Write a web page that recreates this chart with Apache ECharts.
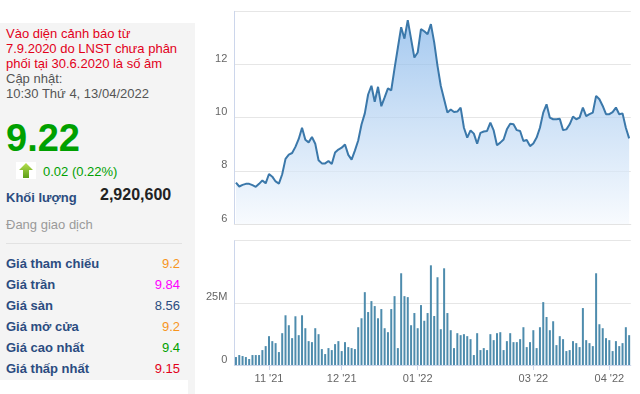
<!DOCTYPE html>
<html>
<head>
<meta charset="utf-8">
<script src="https://cdn.jsdelivr.net/npm/echarts@6/dist/echarts.min.js"></script>
<style>
  html,body{margin:0;padding:0;background:#fff;}
  #wrap{position:relative;width:640px;height:394px;overflow:hidden;font-family:'Liberation Sans',Arial,sans-serif;}
  #chart{position:absolute;left:0;top:0;width:640px;height:394px;}
  #panel{position:absolute;left:0;top:23px;width:195px;height:371px;background:#f4f4f4;}
  #panel .t{position:absolute;white-space:nowrap;font-size:13px;line-height:15px;}
  .red{color:#e2001a;}
  .grey{color:#555;}
  .lbl{color:#2b4c80;font-weight:bold;}
  .val{right:15px;text-align:right;font-size:12.5px;}
</style>
</head>
<body>
<div id="wrap">
  <div id="chart"></div>
  <div id="panel"></div>
</div>
<script>
// ---------- data ----------
const monthLabels = ["10 '21", "11 '21", "12 '21", "01 '22", "02 '22", "03 '22", "04 '22"];
const monthDays   = [10, 22, 23, 19, 16, 23, 7];
const shownTicks  = ["11 '21", "12 '21", "01 '22", "03 '22", "04 '22"];

const price = [
  7.56, 7.41, 7.47, 7.51, 7.51, 7.46, 7.40, 7.51, 7.64, 7.53,
  7.88, 7.78, 7.60, 7.52, 7.87, 8.45, 8.61, 8.67, 8.90, 9.20,
  9.62, 9.17, 9.07, 9.27, 9.02, 8.40, 8.28, 8.28, 8.37, 8.26,
  8.69, 8.80, 8.87, 8.99, 8.60, 8.42, 8.76, 9.14, 9.74, 10.16,
  10.87, 11.20, 10.60, 11.16, 10.43, 10.76, 11.10, 11.03, 11.85, 12.63,
  13.40, 12.97, 13.67, 12.96, 12.26, 12.45, 13.33, 13.25, 13.14, 13.52,
  12.83, 11.95, 11.19, 10.69, 10.19, 10.31, 10.21, 10.23, 10.38, 9.62,
  9.25, 9.52, 9.40, 9.02, 9.43, 9.48, 9.50, 9.81, 9.52, 8.96,
  9.06, 9.18, 9.56, 9.77, 9.75, 9.53, 9.50, 9.12, 9.16, 8.93,
  9.03, 9.25, 9.62, 10.19, 10.50, 10.00, 9.94, 9.94, 9.96, 9.53,
  9.56, 9.75, 10.04, 9.94, 10.00, 10.38, 10.06, 10.13, 10.19, 10.82,
  10.69, 10.44, 10.13, 10.13, 10.21, 10.38, 10.13, 10.16, 9.62, 9.22
];

// volume in millions of shares
const volumeM = [
  3.2, 4.0, 3.6, 3.2, 2.4, 4.0, 4.0, 4.0, 6.0, 7.6,
  11.6, 9.6, 8.8, 5.2, 12.8, 20.0, 16.0, 10.8, 19.6, 12.0,
  20.0, 14.8, 9.6, 9.2, 14.8, 12.4, 6.4, 4.4, 6.8, 6.0,
  8.4, 9.6, 5.6, 9.2, 7.2, 6.8, 6.4, 15.2, 18.8, 29.3,
  21.3, 25.7, 23.7, 18.8, 22.5, 14.8, 13.2, 22.5, 27.7, 6.8,
  36.9, 27.7, 27.3, 16.0, 20.9, 14.8, 24.1, 17.8, 20.9, 40.1,
  19.7, 35.3, 14.4, 38.9, 20.9, 14.0, 6.8, 12.8, 12.0, 12.4,
  11.6, 10.4, 4.0, 12.8, 6.0, 6.8, 6.0, 12.4, 10.0, 12.8,
  13.2, 6.0, 9.6, 12.8, 9.2, 9.2, 10.4, 15.2, 7.2, 9.2,
  14.0, 6.8, 15.2, 25.3, 19.3, 14.0, 17.6, 8.0, 11.6, 10.4,
  5.6, 6.0, 9.6, 8.8, 7.2, 22.9, 10.0, 8.8, 7.6, 36.9,
  16.4, 14.8, 10.8, 10.0, 5.6, 9.6, 7.6, 8.8, 15.2, 12.0
];

const warningLines = ["Vào diện cảnh báo từ", "7.9.2020 do LNST chưa phân", "phối tại 30.6.2020 là số âm"];
const updateLines = ["Cập nhật:", "10:30 Thứ 4, 13/04/2022"];
const lastPrice = "9.22";
const change = "0.02 (0.22%)";
const volumeLabel = "Khối lượng";
const volumeValue = "2,920,600";
const statusText = "Đang giao dịch";
const priceRowLabels = ["Giá tham chiếu", "Giá trần", "Giá sàn", "Giá mở cửa", "Giá cao nhất", "Giá thấp nhất"];
const priceRowValues = ["9.2", "9.84", "8.56", "9.2", "9.4", "9.15"];
const priceRowColors = ["#f7941d", "#ff00ff", "#2b4c80", "#f7941d", "#00a000", "#e2001a"];

// ---------- side panel ----------
const panel = document.getElementById('panel');
function addText(txt, cls, left, centerY, extra) {
  const d = document.createElement('div');
  d.className = 't ' + (cls || '');
  d.textContent = txt;
  d.style.top = (centerY - 23 - 7.5) + 'px';
  if (left !== null) d.style.left = left + 'px';
  if (extra) Object.assign(d.style, extra);
  panel.appendChild(d);
  return d;
}
warningLines.forEach((s, i) => addText(s, 'red', 6, 33.3 + 15 * i));
updateLines.forEach((s, i) => addText(s, 'grey', 6, 78.3 + 15 * i));
addText(lastPrice, '', 6, 0, {top: (118.5 - 23) + 'px', fontSize: '38px', lineHeight: '38px', fontWeight: 'bold', color: '#00a000'});
// arrow icon
const arrow = document.createElement('div');
arrow.style.cssText = 'position:absolute;left:16px;top:' + (162 - 23) + 'px;width:20px;height:17px;background:#fff;';
arrow.innerHTML = '<svg width="20" height="17" viewBox="0 0 20 17"><defs><linearGradient id="ag" x1="0" y1="0" x2="0" y2="1"><stop offset="0" stop-color="#b6e04e"/><stop offset="1" stop-color="#5c9e18"/></linearGradient></defs><path d="M10 1 L17 8 L13 8 L13 16 L7 16 L7 8 L3 8 Z" fill="url(#ag)"/></svg>';
panel.appendChild(arrow);
addText(change, '', 43, 171, {color: '#00a000'});
addText(volumeLabel, 'lbl', 6, 197.7);
addText(volumeValue, '', 100, 195, {fontSize: '16px', lineHeight: '18px', top: (195 - 23 - 9) + 'px', fontWeight: 'bold', color: '#222'});
addText(statusText, '', 6, 224.3, {color: '#9a9a9a'});
const sep = document.createElement('div');
sep.style.cssText = 'position:absolute;left:6px;top:' + (242.5 - 23) + 'px;width:176px;height:1px;background:#e2e2e2;';
panel.appendChild(sep);
priceRowLabels.forEach((s, i) => {
  const cy = 263.3 + 21 * i;
  addText(s, 'lbl', 6, cy);
  addText(priceRowValues[i], 'val', null, cy, {color: priceRowColors[i]});
});
const whiteBox = document.createElement('div');
whiteBox.style.cssText = 'position:absolute;left:0;top:' + (380 - 23) + 'px;width:188px;height:20px;background:#fff;';
panel.appendChild(whiteBox);

// ---------- chart ----------
const categories = [];
monthLabels.forEach((m, mi) => {
  for (let d = 0; d < monthDays[mi]; d++) categories.push(m + '|' + d);
});
const isShown = (v) => {
  const p = String(v).split('|');
  return p[1] === '0' && shownTicks.includes(p[0]);
};

const FONT = "'Liberation Sans', Arial, sans-serif";
const gridLeft = 234.3, gridWidth = 396.5;
const chart = echarts.init(document.getElementById('chart'), null, {renderer: 'canvas'});
chart.setOption({
  animation: false,
  grid: [
    {left: gridLeft, top: 11.3, width: gridWidth, height: 212.7},
    {left: gridLeft, top: 240.7, width: gridWidth, height: 124.3}
  ],
  xAxis: [
    {
      type: 'category', gridIndex: 0, data: categories, boundaryGap: true,
      axisLine: {show: true, lineStyle: {color: '#e3e3e3'}},
      axisTick: {show: false}, axisLabel: {show: false}, splitLine: {show: false}
    },
    {
      type: 'category', gridIndex: 1, data: categories, boundaryGap: true,
      axisLine: {show: true, lineStyle: {color: '#ccd6eb'}},
      axisTick: {show: true, alignWithLabel: true, length: 5, interval: (i, v) => isShown(v), lineStyle: {color: '#ccd6eb'}},
      axisLabel: {
        interval: (i, v) => isShown(v), formatter: (v) => String(v).split('|')[0],
        color: '#666', fontSize: 11, fontFamily: FONT, margin: 8
      },
      splitLine: {show: false}
    }
  ],
  yAxis: [
    {
      type: 'value', gridIndex: 0, min: 6, max: 14, interval: 2,
      axisLine: {show: true, lineStyle: {color: '#ccd6eb'}},
      axisTick: {show: false},
      splitLine: {lineStyle: {color: '#e6e6e6'}},
      axisLabel: {formatter: (v) => v === 14 ? '' : String(v), color: '#666', fontSize: 11, fontFamily: FONT, margin: 7, verticalAlign: 'bottom'}
    },
    {
      type: 'value', gridIndex: 1, min: 0, max: 50, interval: 25,
      axisLine: {show: true, lineStyle: {color: '#ccd6eb'}},
      axisTick: {show: false},
      splitLine: {lineStyle: {color: '#e6e6e6'}},
      axisLabel: {formatter: (v) => v === 0 ? '0' : (v === 50 ? '' : v + 'M'), color: '#666', fontSize: 11, fontFamily: FONT, margin: 7, verticalAlign: 'bottom'}
    }
  ],
  series: [
    {
      type: 'line', xAxisIndex: 0, yAxisIndex: 0, data: price,
      symbol: 'none', smooth: false,
      lineStyle: {color: '#3b78aa', width: 2},
      areaStyle: {
        origin: 'start',
        color: new echarts.graphic.LinearGradient(0, 0, 0, 1, [
          {offset: 0, color: '#7fb2e8'},
          {offset: 1, color: '#f4f8fd'}
        ])
      }
    },
    {
      type: 'bar', xAxisIndex: 1, yAxisIndex: 1, data: volumeM,
      barWidth: 2, itemStyle: {color: '#4e8cad'}
    }
  ]
});
</script>
</body>
</html>
